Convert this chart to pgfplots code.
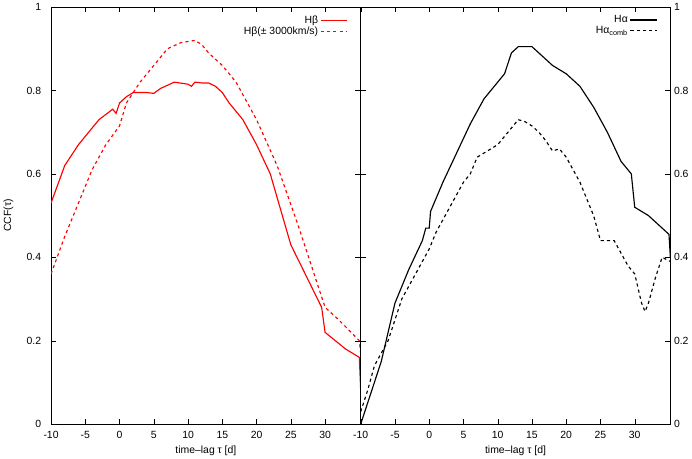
\documentclass[border=0pt]{standalone}
\usepackage{pgfplots}
\pgfplotsset{compat=1.18}
\usepackage{fontspec}
\setmainfont{Liberation Sans}
\begin{document}
\begin{tikzpicture}[x=1pt,y=1pt]
\pgfplotsset{every axis/.style={scale only axis, width=297pt, height=400pt,
 xmin=-10,xmax=35.2,ymin=0,ymax=1, xtick={-10,-5,...,30}, ytick={0,0.2,...,1},
 yticklabel style={/pgf/number format/fixed,xshift=-2pt}, xticklabel style={yshift=-3pt},
 tick style={black}, major tick length=5pt,
 tick label style={font=\normalsize}, label style={font=\normalsize},
 /pgf/number format/assume math mode=true,
 legend style={draw=none,font=\normalsize,fill=none,at={(0.97,0.99)},anchor=north east,row sep=-2pt},
 legend cell align=right, legend plot pos=right,
 legend image code/.code={\draw[##1] (0cm,0cm) -- (0.9cm,0cm);}}}
\begin{axis}[at={(0,0)}, xlabel={time\textendash lag τ [d]}, ylabel={CCF(τ)},
 ylabel style={yshift=6pt}, yticklabel pos=left, yticklabel style={xshift=-4pt}]
\addplot[red,line width=1.1pt] coordinates {(-10,0.53)(-8,0.62)(-6,0.67)(-5,0.69)(-3,0.73)(-1,0.755)(-0.5,0.745)(0,0.77)(1,0.785)(2,0.795)(4,0.795)(5,0.793)(6,0.805)(8,0.82)(10,0.815)(10.5,0.81)(11,0.82)(12,0.818)(13,0.818)(14,0.81)(15,0.795)(16,0.77)(18,0.73)(20,0.67)(22,0.6)(25,0.43)(28,0.33)(29.5,0.28)(30,0.22)(33,0.18)(35,0.16)(35.2,0.08)};
\addlegendentry{Hβ}
\addplot[red,line width=1.1pt,dashed] coordinates {(-10,0.36)(-8,0.45)(-6,0.53)(-4,0.61)(-2,0.67)(0,0.715)(1,0.77)(3,0.82)(5,0.86)(7,0.9)(9,0.915)(11,0.92)(12,0.91)(13,0.89)(15,0.86)(17,0.82)(20,0.73)(23,0.62)(26,0.48)(28,0.38)(30,0.28)(32,0.25)(35,0.2)(35.2,0.17)};
\addlegendentry{Hβ(± 3000km/s)}
\end{axis}
\begin{axis}[at={(297pt,0)}, xlabel={time\textendash lag τ [d]}, yticklabel pos=right, yticklabel style={xshift=2pt}]
\addplot[black,line width=1.1pt] coordinates {(-10,0)(-9,0.05)(-7,0.15)(-5,0.29)(-3,0.37)(-1,0.44)(-0.5,0.47)(0,0.47)(0.2,0.51)(2,0.58)(4,0.65)(6,0.72)(8,0.78)(10,0.82)(11,0.84)(12,0.89)(13,0.905)(15,0.905)(16,0.89)(18,0.86)(20,0.84)(22,0.81)(24,0.76)(26,0.70)(28,0.63)(29.5,0.6)(30,0.52)(32,0.5)(34,0.47)(35,0.455)(35.2,0.4)};
\addlegendentry{Hα}
\addplot[black,line width=1.1pt,dashed] coordinates {(-10,0.03)(-9,0.08)(-8,0.14)(-6,0.2)(-5,0.25)(-4,0.3)(-2,0.36)(0,0.42)(1,0.46)(3,0.52)(5,0.58)(6,0.6)(7,0.64)(9,0.66)(10,0.67)(11,0.69)(13,0.73)(14,0.725)(15,0.715)(16,0.7)(17,0.68)(18,0.655)(19,0.66)(20,0.64)(22,0.58)(24,0.5)(25,0.44)(27,0.44)(28,0.41)(29,0.38)(30,0.36)(31,0.29)(31.5,0.27)(32,0.29)(33,0.35)(34,0.4)(35.2,0.39)};
\addlegendentry{Hα\textsubscript{comb}}
\end{axis}
\end{tikzpicture}
\end{document}
